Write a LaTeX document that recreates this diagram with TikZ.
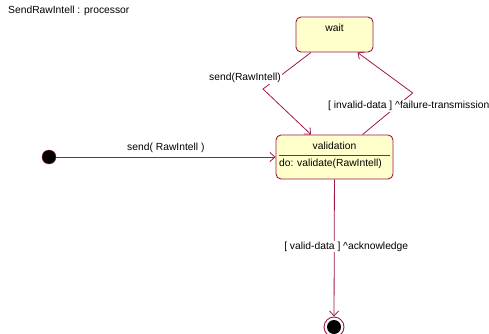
\documentclass[tikz,border=0pt]{standalone}
\usepackage{fontspec}
\setmainfont{Liberation Sans}
\usetikzlibrary{arrows.meta}
\definecolor{umlline}{RGB}{160,24,72}
\definecolor{umlfill}{RGB}{255,255,204}
\tikzset{
  state/.style={draw=umlline, fill=umlfill, rounded corners=5pt, line width=0.9pt},
  trans/.style={draw=umlline, line width=0.8pt, -{Straight Barb[length=5pt,width=9pt]}},
  lbl/.style={fill=white, inner sep=1pt}
}
\begin{document}
\begin{tikzpicture}[x=1pt,y=-1pt,font=\fontsize{10.3}{12}\selectfont]
			\useasboundingbox (0,0) rectangle (489,334);
			\node[anchor=west, inner sep=1pt] (title) at (7,11) {SendRawIntell : processor};
			\node[state, minimum width=77pt, minimum height=35pt] (wait) at (334.5,34.5) {};
			\node (waitname) at (334.5,28) {wait};
			\node[state, minimum width=117pt, minimum height=44pt] (valid) at (334.5,157) {};
			\node (validname) at (334.5,146) {validation};
			\draw[umlline, line width=0.8pt] ([xshift=3pt,yshift=2pt]valid.west) -- ([xshift=-3pt,yshift=2pt]valid.east);
			\node[anchor=west] (validdo) at ([yshift=-6.5pt]valid.west) {do: validate(RawIntell)};
			\node[circle, fill=black, draw=umlline, minimum size=14pt, inner sep=0] (init) at (49,157) {};
			\node[circle, fill=white, draw=umlline, line width=0.9pt, minimum size=20pt, inner sep=0] (final) at (334,327) {};
			\node[circle, fill=black, minimum size=14pt, inner sep=0] (finaldot) at (final) {};
			\coordinate (bendsend) at (263,89);
			\coordinate (bendfail) at (412.7,93);
			\draw[trans] (init) -- node[above=1pt] {send( RawIntell )} (valid.west |- init);
			\draw[trans] ([xshift=-23.5pt]wait.south) -- (bendsend) -- ([xshift=-23.5pt]valid.north);
			\node[lbl, anchor=east] (sendlbl) at (282,78) {send(RawIntell)};
			\draw[trans] ([xshift=28pt]valid.north) -- (bendfail) -- ([xshift=23pt]wait.south);
			\node[lbl, anchor=west] (faillbl) at (327,106) {[ invalid-data ] \textasciicircum failure-transmission};
			\draw[trans] (valid) -- node[lbl, xshift=12pt, pos=0.49] {[ valid-data ] \textasciicircum acknowledge} (final);
			\end{tikzpicture}
\end{document}
